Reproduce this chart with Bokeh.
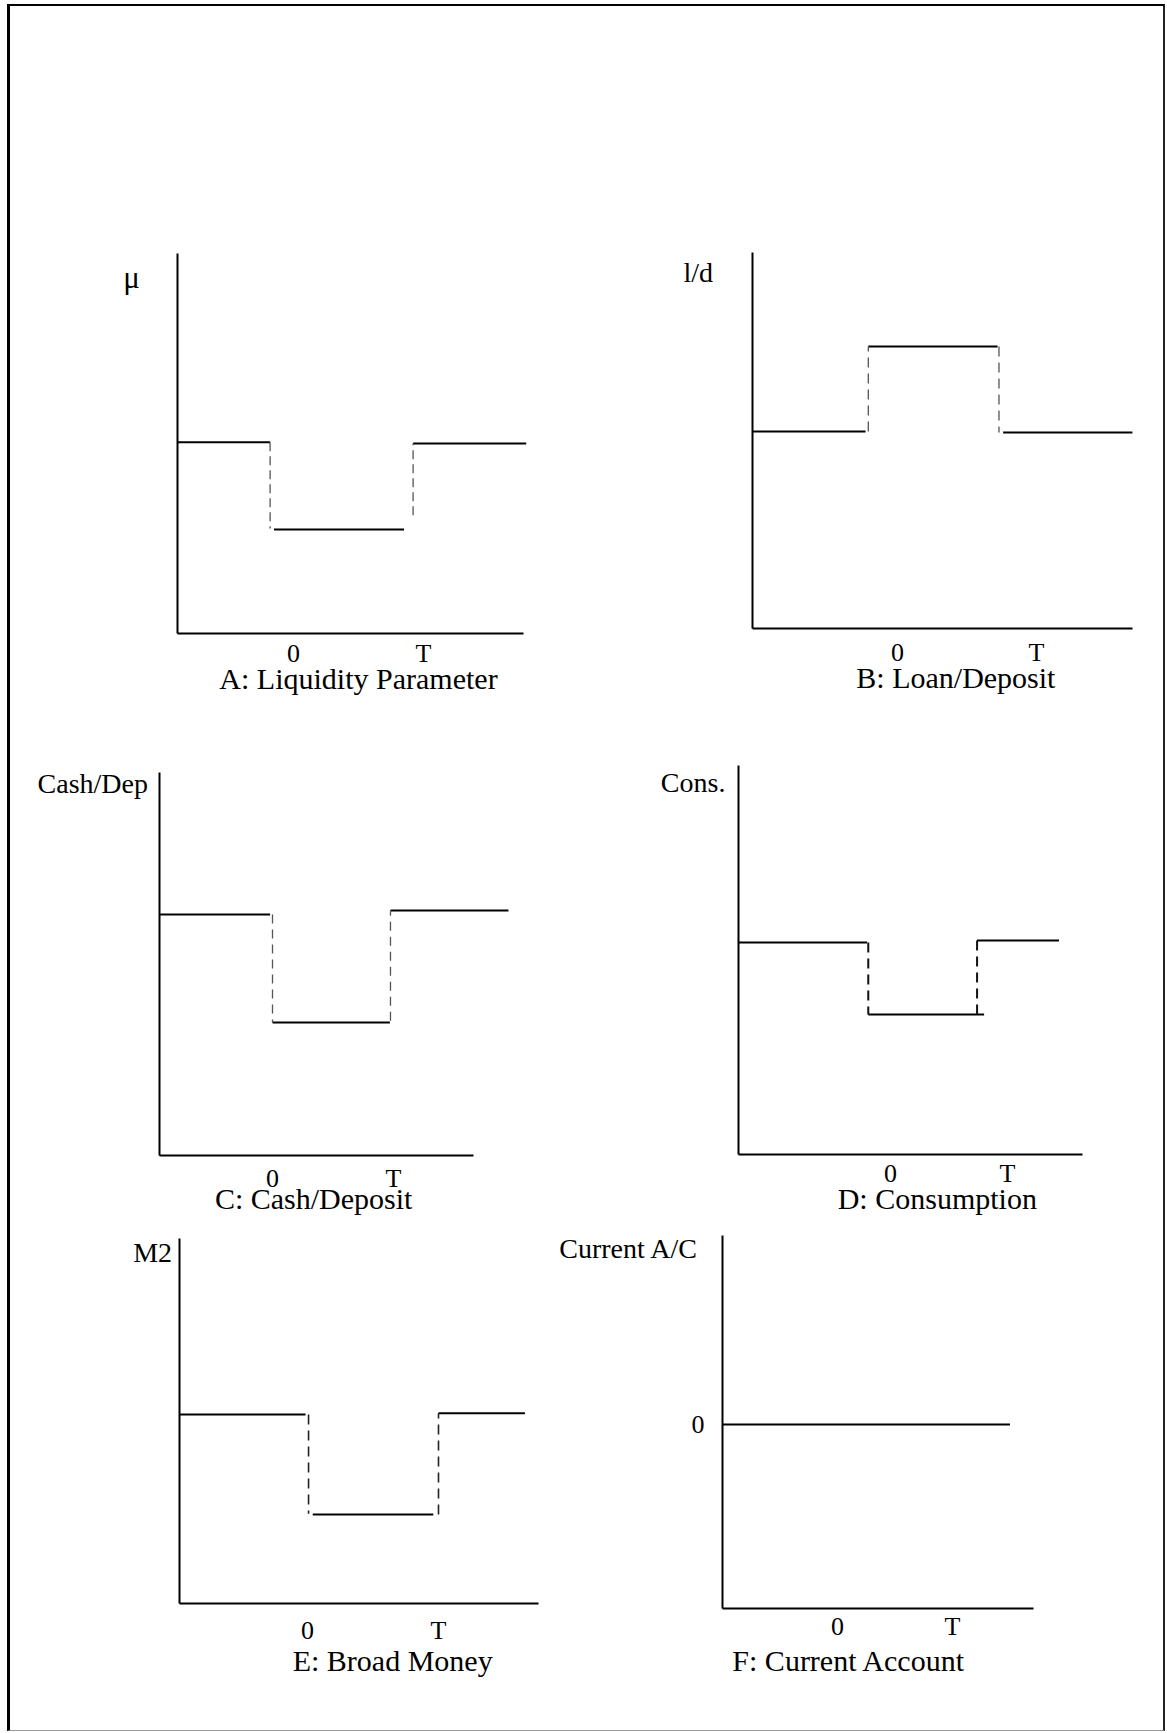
from bokeh.plotting import figure
from bokeh.layouts import column, row
from bokeh.models import Range1d, FixedTicker, Label, LinearAxis
from bokeh.embed import file_html
from bokeh.resources import INLINE

FONT = "Liberation Serif"

# time axis: tick "0" at 0, tick "T" at T
T = 10
x_ticks = [0, T]
x_tick_labels = ["0", "T"]

# ---- Panel A: Liquidity Parameter (mu) ----
a_lvl_x0 = [-8.9, -1.5, 9.2]
a_lvl_x1 = [-1.8, 8.5, 17.9]
a_lvl_y = [50.3, 27.4, 50.0]
a_jump_x = [-1.8, 9.2]
a_jump_from = [50.3, 31.1]
a_jump_to = [27.6, 50.0]

# ---- Panel B: Loan/Deposit (l/d) ----
b_lvl_x0 = [-10.4, -2.1, 7.6]
b_lvl_x1 = [-2.3, 7.2, 16.9]
b_lvl_y = [52.4, 75.0, 52.1]
b_jump_x = [-2.1, 7.3]
b_jump_from = [52.4, 75.0]
b_jump_to = [75.0, 52.1]

# ---- Panel C: Cash/Deposit ----
c_lvl_x0 = [-9.3, 0.0, 9.75]
c_lvl_x1 = [-0.2, 9.7, 19.5]
c_lvl_y = [62.9, 34.7, 64.0]
c_jump_x = [0.0, 9.75]
c_jump_from = [62.9, 35.2]
c_jump_to = [34.7, 64.0]

# ---- Panel D: Consumption ----
d_lvl_x0 = [-13.0, -1.9, 7.4]
d_lvl_x1 = [-2.0, 8.0, 14.4]
d_lvl_y = [54.5, 36.0, 55.0]
d_jump_x = [-1.9, 7.4]
d_jump_from = [54.5, 36.0]
d_jump_to = [36.0, 55.0]

# ---- Panel E: Broad Money (M2) ----
e_lvl_x0 = [-9.8, 0.4, 10.0]
e_lvl_x1 = [-0.15, 9.6, 16.6]
e_lvl_y = [51.8, 24.4, 52.1]
e_jump_x = [0.08, 10.0]
e_jump_from = [51.8, 24.4]
e_jump_to = [24.6, 52.1]

# ---- Panel F: Current Account ----
f_lvl_x0 = [-10.0]
f_lvl_x1 = [15.0]
f_lvl_y = [0.0]
f_jump_x = []
f_jump_from = []
f_jump_to = []

# page layout (pixels): column / row edges of the six boxes
COLS = [(10, 555), (555, 1163)]
ROWS = [(6, 710), (710, 1215), (1215, 1730)]

panels = [
    dict(name="A", ylab="\u03bc", caption="A: Liquidity Parameter",
         x0=a_lvl_x0, x1=a_lvl_x1, y=a_lvl_y, jx=a_jump_x, jf=a_jump_from, jt=a_jump_to,
         box=(0, 0), zero_px=293, sx=13.0, base_px=633, sy=3.8,
         yaxis_at=-8.9, xbounds=(-8.9, 17.7), ybounds=(0, 100), xaxis_at=0,
         ylab_dx=38, ylab_dy=24, ylab_size="31px", cap_x=5.0, cap_dy=45, standoff=5,
         dash_color="#555555", dash_w=1.3, dash="9 5"),
    dict(name="B", ylab="l/d", caption="B: Loan/Deposit",
         x0=b_lvl_x0, x1=b_lvl_x1, y=b_lvl_y, jx=b_jump_x, jf=b_jump_from, jt=b_jump_to,
         box=(1, 0), zero_px=897, sx=13.9, base_px=628, sy=3.76,
         yaxis_at=-10.4, xbounds=(-10.4, 16.9), ybounds=(0, 100), xaxis_at=0,
         ylab_dx=40, ylab_dy=20, ylab_size="28px", cap_x=4.2, cap_dy=49, standoff=9,
         dash_color="#555555", dash_w=1.3, dash="10 6"),
    dict(name="C", ylab="Cash/Dep", caption="C: Cash/Deposit",
         x0=c_lvl_x0, x1=c_lvl_x1, y=c_lvl_y, jx=c_jump_x, jf=c_jump_from, jt=c_jump_to,
         box=(0, 1), zero_px=272, sx=12.1, base_px=1155, sy=3.83,
         yaxis_at=-9.3, xbounds=(-9.3, 16.6), ybounds=(0, 100), xaxis_at=0,
         ylab_dx=12, ylab_dy=11, ylab_size="28px", cap_x=3.4, cap_dy=43, standoff=8,
         dash_color="#555555", dash_w=1.3, dash="9 6"),
    dict(name="D", ylab="Cons.", caption="D: Consumption",
         x0=d_lvl_x0, x1=d_lvl_x1, y=d_lvl_y, jx=d_jump_x, jf=d_jump_from, jt=d_jump_to,
         box=(1, 1), zero_px=890, sx=11.7, base_px=1154, sy=3.89,
         yaxis_at=-13.0, xbounds=(-13.0, 16.4), ybounds=(0, 100), xaxis_at=0,
         ylab_dx=13, ylab_dy=17, ylab_size="28px", cap_x=4.0, cap_dy=44, standoff=4,
         dash_color="#111111", dash_w=2, dash="10 6"),
    dict(name="E", ylab="M2", caption="E: Broad Money",
         x0=e_lvl_x0, x1=e_lvl_x1, y=e_lvl_y, jx=e_jump_x, jf=e_jump_from, jt=e_jump_to,
         box=(0, 2), zero_px=307, sx=13.1, base_px=1603, sy=3.65,
         yaxis_at=-9.8, xbounds=(-9.8, 17.6), ybounds=(0, 100), xaxis_at=0,
         ylab_dx=7, ylab_dy=14, ylab_size="28px", cap_x=6.5, cap_dy=57, standoff=12,
         dash_color="#222222", dash_w=1.6, dash="10 6"),
    dict(name="F", ylab="Current A/C", caption="F: Current Account",
         x0=f_lvl_x0, x1=f_lvl_x1, y=f_lvl_y, jx=f_jump_x, jf=f_jump_from, jt=f_jump_to,
         box=(1, 2), zero_px=837, sx=11.5, base_px=1424, sy=3.73,
         yaxis_at=-10.0, xbounds=(-10.0, 17.0), ybounds=(-49.3, 50.7), xaxis_at=-49.3,
         ylab_dx=24, ylab_dy=13, ylab_size="28px", cap_x=1.0, cap_dy=52, standoff=4,
         dash_color="#222222", dash_w=1.6, dash="10 6"),
]


def make_panel(s):
    (l, r) = COLS[s["box"][0]]
    (t, b) = ROWS[s["box"][1]]
    xr = Range1d((l - s["zero_px"]) / s["sx"], (r - s["zero_px"]) / s["sx"])
    yr = Range1d((s["base_px"] - b) / s["sy"], (s["base_px"] - t) / s["sy"])
    p = figure(width=r - l, height=b - t, x_range=xr, y_range=yr,
               min_border=0, x_axis_location=None, y_axis_location=None,
               output_backend="svg", toolbar_location=None, tools="")
    p.outline_line_color = None
    p.grid.visible = False
    p.background_fill_color = "white"
    p.border_fill_color = "white"

    # x axis: only "0" and "T"
    xa = LinearAxis(fixed_location=s["xaxis_at"], bounds=s["xbounds"],
                    ticker=FixedTicker(ticks=x_ticks),
                    major_label_overrides={x_ticks[i]: x_tick_labels[i]
                                           for i in range(len(x_ticks))})
    xa.major_tick_line_color = None
    xa.minor_tick_line_color = None
    xa.major_tick_in = 0
    xa.major_tick_out = 0
    xa.major_label_standoff = s["standoff"]
    xa.major_label_text_font = FONT
    xa.major_label_text_font_size = "26px"
    xa.major_label_text_color = "black"
    xa.axis_line_color = "black"
    xa.axis_line_width = 2
    p.add_layout(xa, "below")

    ya = LinearAxis(fixed_location=s["yaxis_at"], bounds=s["ybounds"])
    if s["name"] == "F":
        ya.ticker = FixedTicker(ticks=[0])
        ya.major_label_standoff = 18
        ya.major_label_text_font = FONT
        ya.major_label_text_font_size = "26px"
        ya.major_label_text_color = "black"
    else:
        ya.ticker = FixedTicker(ticks=[])
    ya.major_tick_line_color = None
    ya.minor_tick_line_color = None
    ya.major_tick_in = 0
    ya.major_tick_out = 0
    ya.axis_line_color = "black"
    ya.axis_line_width = 2
    p.add_layout(ya, "left")

    # solid levels
    p.segment(x0=s["x0"], y0=s["y"], x1=s["x1"], y1=s["y"],
              line_color="black", line_width=2)
    # dashed jumps
    if s["jx"]:
        p.segment(x0=s["jx"], y0=s["jf"], x1=s["jx"], y1=s["jt"],
                  line_color=s["dash_color"], line_width=s["dash_w"],
                  line_dash=s["dash"])

    # variable label at top-left of the y axis
    p.add_layout(Label(x=s["yaxis_at"], y=s["ybounds"][1], x_offset=-s["ylab_dx"],
                       y_offset=-s["ylab_dy"], text=s["ylab"],
                       text_font=FONT, text_font_size=s["ylab_size"], text_color="black",
                       text_align="right", text_baseline="middle"))
    # caption under the axis
    p.add_layout(Label(x=s["cap_x"], y=s["xaxis_at"], y_offset=-s["cap_dy"],
                       text=s["caption"], text_font=FONT, text_font_size="30px",
                       text_color="black", text_align="center",
                       text_baseline="middle"))
    return p


figs = [make_panel(s) for s in panels]

layout = column(
    row(figs[0], figs[1]),
    row(figs[2], figs[3]),
    row(figs[4], figs[5]),
    styles={"margin-left": "7px", "margin-top": "4px",
            "border-left": "3px solid black", "border-top": "2px solid black",
            "border-right": "2px solid #222", "border-bottom": "1px solid #999"},
)

open("out.html", "w").write(file_html(layout, INLINE))
